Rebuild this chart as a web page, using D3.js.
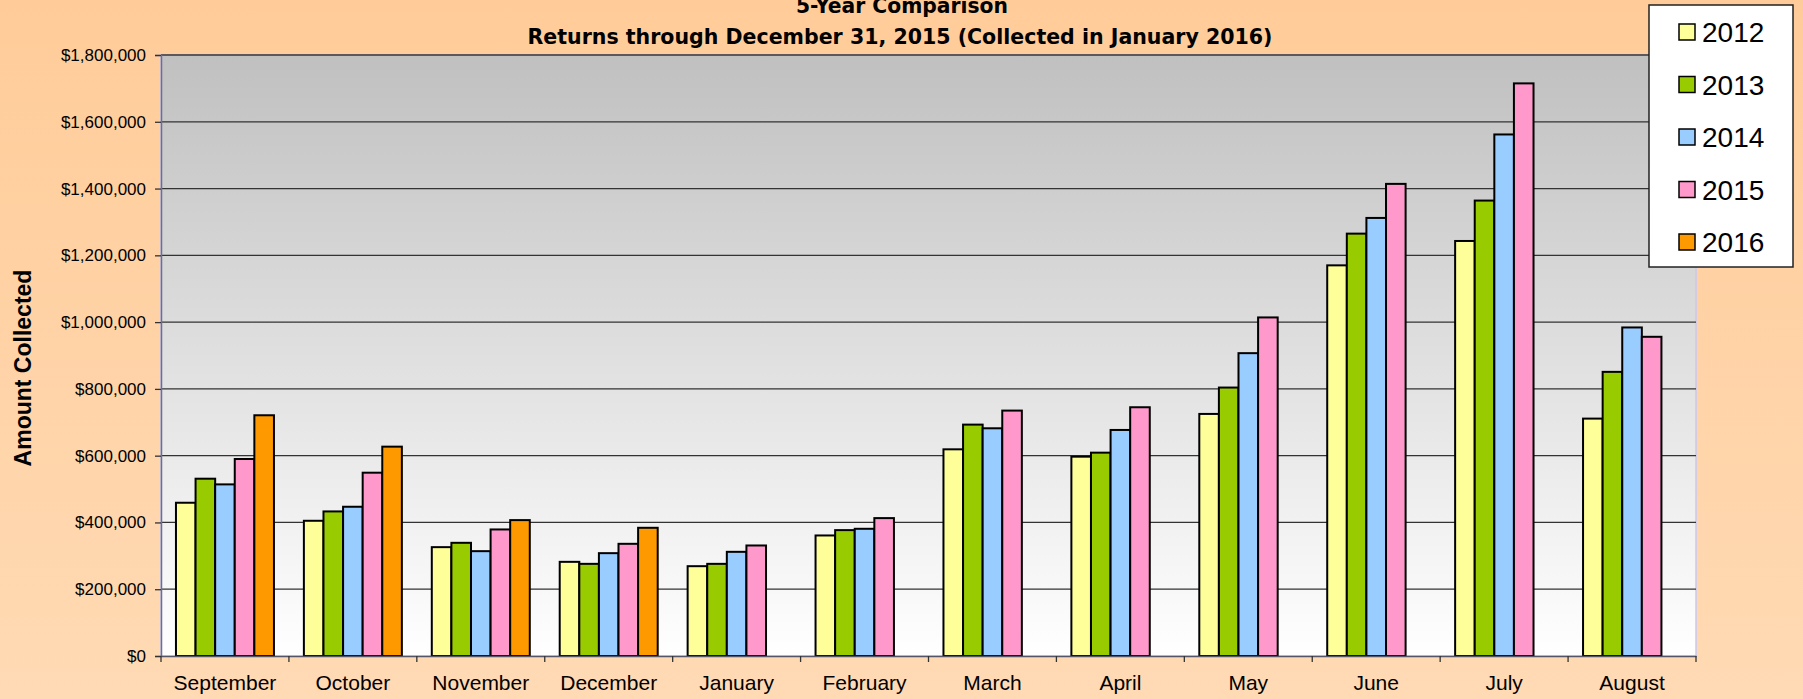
<!DOCTYPE html>
<html>
<head>
<meta charset="utf-8">
<script src="https://cdn.jsdelivr.net/npm/d3@7"></script>
<style>
  body { margin: 0; overflow: hidden; }
  .axis-text { font-family: Arial, "Liberation Sans", sans-serif; fill: #000; }
</style>
</head>
<body>
<div class="chart"></div>
<script>
var svgWidth = 1803;
var svgHeight = 699;

// plot area edges
var margin = { top: 55, right: 107, bottom: 43, left: 161 };
var width = svgWidth - margin.left - margin.right;
var height = svgHeight - margin.top - margin.bottom;

// chart data
var months = ["September", "October", "November", "December", "January", "February",
  "March", "April", "May", "June", "July", "August"];
var years = ["2012", "2013", "2014", "2015", "2016"];
var colors = ["#FFFF99", "#99CC00", "#99CCFF", "#FF99CC", "#FF9900"];
var values2012 = [459000, 405000, 326000, 282000, 269000, 361000, 619000, 597000, 725000, 1170000, 1243000, 711000];
var values2013 = [531000, 433000, 339000, 276000, 276000, 377000, 693000, 609000, 804000, 1265000, 1364000, 851000];
var values2014 = [514000, 447000, 314000, 308000, 312000, 381000, 682000, 677000, 907000, 1312000, 1562000, 984000];
var values2015 = [590000, 549000, 379000, 336000, 331000, 413000, 735000, 745000, 1014000, 1414000, 1715000, 956000];
var values2016 = [721000, 627000, 407000, 384000, null, null, null, null, null, null, null, null];
var yTicks = [0, 200000, 400000, 600000, 800000, 1000000, 1200000, 1400000, 1600000, 1800000];

var series = [values2012, values2013, values2014, values2015, values2016];

var svg = d3
  .select(".chart")
  .append("svg")
  .attr("width", svgWidth)
  .attr("height", svgHeight);

var defs = svg.append("defs");

// peach page background
var bgGrad = defs.append("linearGradient")
  .attr("id", "bgGrad").attr("x1", 0).attr("y1", 0).attr("x2", 0).attr("y2", 1);
bgGrad.append("stop").attr("offset", "0%").attr("stop-color", "#FFCC99");
bgGrad.append("stop").attr("offset", "100%").attr("stop-color", "#FFDAB4");

// gray to white plot background
var plotGrad = defs.append("linearGradient")
  .attr("id", "plotGrad").attr("x1", 0).attr("y1", 0).attr("x2", 0).attr("y2", 1);
plotGrad.append("stop").attr("offset", "0%").attr("stop-color", "#C0C0C0");
plotGrad.append("stop").attr("offset", "100%").attr("stop-color", "#FFFFFF");

svg.append("rect")
  .attr("width", svgWidth)
  .attr("height", svgHeight)
  .attr("fill", "url(#bgGrad)");

var chart = svg.append("g")
  .attr("transform", "translate(" + margin.left + "," + margin.top + ")");

// scales
var x0 = d3.scaleBand().domain(months).range([0, width]).padding(0);
var bw = x0.bandwidth();
var x1 = d3.scaleBand().domain(years).range([bw * 0.117, bw * 0.883]).padding(0);
var yLinearScale = d3.scaleLinear().domain([0, 1800000]).range([height, 0]);

chart.append("rect")
  .attr("width", width)
  .attr("height", height)
  .attr("fill", "url(#plotGrad)")
  .attr("stroke", "#C8C8F4")
  .attr("stroke-width", 1.5);

// gridlines
chart.append("g")
  .selectAll("line")
  .data(yTicks.slice(1))
  .enter()
  .append("line")
  .attr("x1", 0)
  .attr("x2", width)
  .attr("y1", function(d) { return yLinearScale(d); })
  .attr("y2", function(d) { return yLinearScale(d); })
  .attr("stroke", "#333")
  .attr("stroke-width", 1.3);

// bars, one group per month
var groups = chart.selectAll(".month")
  .data(months)
  .enter()
  .append("g")
  .attr("class", "month")
  .attr("transform", function(d) { return "translate(" + x0(d) + ",0)"; });

groups.selectAll("rect")
  .data(function(m, i) {
    return years.map(function(yr, j) {
      return { year: yr, value: series[j][i], color: colors[j] };
    }).filter(function(d) { return d.value != null; });
  })
  .enter()
  .append("rect")
  .attr("x", function(d) { return x1(d.year); })
  .attr("width", x1.bandwidth())
  .attr("y", function(d) { return yLinearScale(d.value); })
  .attr("height", function(d) { return height - yLinearScale(d.value); })
  .attr("fill", function(d) { return d.color; })
  .attr("stroke", "#000")
  .attr("stroke-width", 2);

// y axis
var leftAxis = d3.axisLeft(yLinearScale)
  .tickValues(yTicks)
  .tickSize(6)
  .tickPadding(9)
  .tickFormat(d3.format("$,"));

var yAxisG = chart.append("g").attr("class", "y-axis").call(leftAxis);
yAxisG.select(".domain").attr("stroke", "#6E6E90").attr("stroke-width", 1.5);
yAxisG.selectAll(".tick line").attr("stroke", "#333").attr("stroke-width", 1.3);
yAxisG.selectAll("text")
  .attr("class", "axis-text")
  .style("font-size", "17px")
  .attr("fill", "#000");

// x axis, ticks between months
var bottomAxis = d3.axisBottom(x0).tickSize(0).tickPadding(19);
var xAxisG = chart.append("g")
  .attr("class", "x-axis")
  .attr("transform", "translate(0," + height + ")")
  .call(bottomAxis);
xAxisG.select(".domain").attr("stroke", "#55556A").attr("stroke-width", 1.5);
xAxisG.selectAll("text")
  .attr("class", "axis-text")
  .style("font-size", "21px")
  .attr("fill", "#000");

xAxisG.selectAll(".sep")
  .data(d3.range(months.length + 1))
  .enter()
  .append("line")
  .attr("x1", function(i) { return i * bw; })
  .attr("x2", function(i) { return i * bw; })
  .attr("y1", 0)
  .attr("y2", 6)
  .attr("stroke", "#333")
  .attr("stroke-width", 1.3);

// y axis title
svg.append("text")
  .attr("transform", "translate(31,368) rotate(-90)")
  .attr("text-anchor", "middle")
  .attr("class", "axis-text")
  .style("font-size", "23px")
  .style("font-weight", "bold")
  .text("Amount Collected");

// titles
var titleFont = '"Comic Sans MS", "DejaVu Sans Condensed", "DejaVu Sans", sans-serif';
svg.append("text")
  .attr("x", 902)
  .attr("y", 13)
  .attr("text-anchor", "middle")
  .attr("textLength", 212)
  .attr("lengthAdjust", "spacingAndGlyphs")
  .style("font-family", titleFont)
  .style("font-size", "22px")
  .style("font-weight", "bold")
  .text("5-Year Comparison");

svg.append("text")
  .attr("x", 900)
  .attr("y", 44)
  .attr("text-anchor", "middle")
  .attr("textLength", 745)
  .attr("lengthAdjust", "spacingAndGlyphs")
  .style("font-family", titleFont)
  .style("font-size", "22px")
  .style("font-weight", "bold")
  .text("Returns through December 31, 2015 (Collected in January 2016)");

// legend
var legend = svg.append("g").attr("transform", "translate(1649,5)");
legend.append("rect")
  .attr("width", 144)
  .attr("height", 262)
  .attr("fill", "#fff")
  .attr("stroke", "#222")
  .attr("stroke-width", 1.5);

var items = legend.selectAll(".item")
  .data(years)
  .enter()
  .append("g")
  .attr("class", "item")
  .attr("transform", function(d, i) { return "translate(0," + (27 + i * 52.5) + ")"; });

items.append("rect")
  .attr("x", 30)
  .attr("y", -8)
  .attr("width", 16)
  .attr("height", 16)
  .attr("fill", function(d, i) { return colors[i]; })
  .attr("stroke", "#000")
  .attr("stroke-width", 1.5);

items.append("text")
  .attr("x", 53)
  .attr("y", 10)
  .attr("class", "axis-text")
  .style("font-size", "28px")
  .text(function(d) { return d; });
</script>
</body>
</html>
